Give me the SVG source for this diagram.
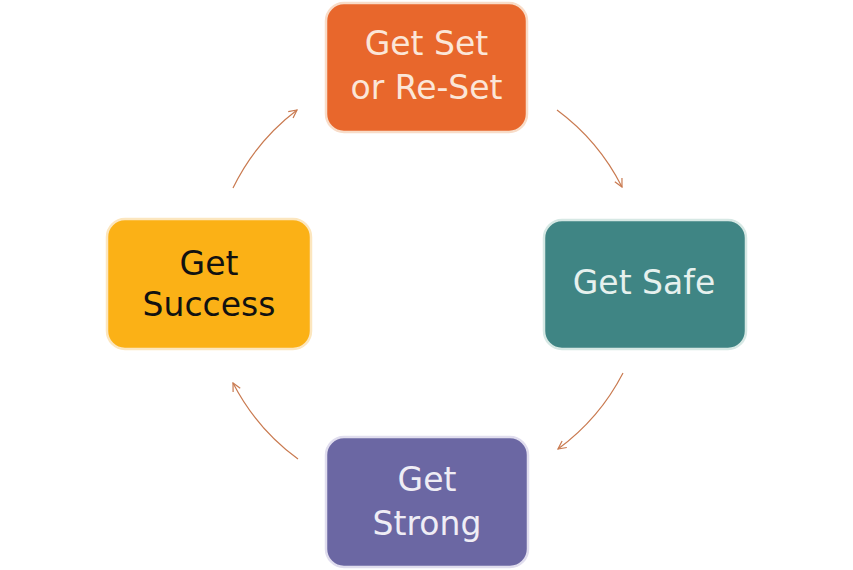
<svg xmlns="http://www.w3.org/2000/svg" width="853" height="570" viewBox="0 0 853 570">
<style>
.box{stroke-width:2.5}
.lbl{font-family:"DejaVu Sans","Liberation Sans",sans-serif;font-size:33px;text-anchor:middle}
.conn{fill:none;stroke:#C97A50;stroke-width:1.2}
</style>
<defs>
<marker id="ah" viewBox="0 0 10 10" refX="9" refY="5" markerWidth="10" markerHeight="10" markerUnits="userSpaceOnUse" orient="auto">
<path d="M1,1 L9,5 L1,9" fill="none" stroke="#C97A50" stroke-width="1.2"/>
</marker>
</defs>
<rect width="853" height="570" fill="#ffffff"/>
<g id="connectors">
<path class="conn" d="M557,110 A218,218 0 0 1 622,187" marker-end="url(#ah)"/>
<path class="conn" d="M623,373 A218,218 0 0 1 558,449" marker-end="url(#ah)"/>
<path class="conn" d="M298,459 A218,218 0 0 1 233,383" marker-end="url(#ah)"/>
<path class="conn" d="M233,188 A218,218 0 0 1 297,110" marker-end="url(#ah)"/>
</g>
<g id="node-set">
<rect class="box" x="326" y="3" width="201" height="129" rx="18" fill="#E8672C" stroke="#F8DCC8"/>
<text class="lbl" x="426.5" y="55" fill="#FBE6D8">Get Set</text>
<text class="lbl" x="426.5" y="99" fill="#FBE6D8">or Re-Set</text>
</g>
<g id="node-safe">
<rect class="box" x="544" y="220" width="202" height="129" rx="18" fill="#3F8584" stroke="#D6E8E4"/>
<text class="lbl" x="644" y="294" fill="#E6F1EE">Get Safe</text>
</g>
<g id="node-strong">
<rect class="box" x="326" y="437" width="202" height="130" rx="18" fill="#6B67A3" stroke="#E0DDEE"/>
<text class="lbl" x="427" y="491" fill="#EFEDF5">Get</text>
<text class="lbl" x="427" y="535" fill="#EFEDF5">Strong</text>
</g>
<g id="node-success">
<rect class="box" x="107" y="219" width="204" height="130" rx="18" fill="#FBB116" stroke="#FCE6BE"/>
<text class="lbl" x="209" y="275" fill="#111111">Get</text>
<text class="lbl" x="209" y="316" fill="#111111">Success</text>
</g>
</svg>
